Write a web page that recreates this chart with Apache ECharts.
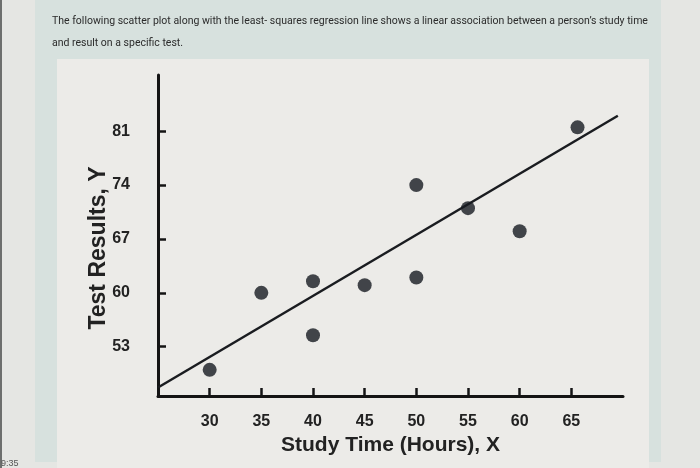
<!DOCTYPE html>
<html>
<head>
    <meta charset="UTF-8"/>
    <script src="https://cdn.jsdelivr.net/npm/echarts@6/dist/echarts.min.js"></script>
    <title>Study time vs test result</title>
    <style>
        html, body { margin: 0; padding: 0; background: #e5e6e3; }
        #main { width: 700px; height: 468px; }
    </style>
</head>
<body>
<div id="main"></div>
<script type="text/javascript">
    // scatter points
    var studyHours = [30, 35, 40, 40, 45, 50, 50, 55, 60, 65.6];
    var testResults = [50, 60, 61.5, 54.5, 61, 74, 62, 71, 68, 81.5];
    // least-squares line, two end points
    var fitHours = [25, 69.5];
    var fitResults = [47.7, 83];
    // tick labels
    var xTicks = [30, 35, 40, 45, 50, 55, 60, 65];
    var yTicks = [53, 60, 67, 74, 81];

    var headText = 'The following scatter plot along with the least- squares regression line shows a linear association between a person\u2019s study time\nand result on a specific test.';

    var points = [];
    for (var i = 0; i < studyHours.length; i++) {
        points.push([studyHours[i], testResults[i]]);
    }
    var fitLine = [];
    for (var j = 0; j < fitHours.length; j++) {
        fitLine.push([fitHours[j], fitResults[j]]);
    }

    var myChart = echarts.init(document.getElementById('main'));
    var option = {
        backgroundColor: '#e5e6e3',
        animation: false,
        graphic: [
            {type: 'rect', shape: {x: 35, y: 0, width: 626, height: 462}, style: {fill: '#d7e1de'}, z: -10},
            {type: 'rect', shape: {x: 57, y: 59, width: 592, height: 409}, style: {fill: '#ecebe8'}, z: -9},
            {type: 'rect', shape: {x: 0, y: 0, width: 2, height: 468}, style: {fill: '#6d6f6e'}, z: -8},
            {
                type: 'text', left: 1, top: 459, z: 5,
                style: {text: '9:35', fill: '#555', fontSize: 9, fontFamily: 'Liberation Sans'}
            }
        ],
        title: {
            text: headText,
            left: 47,
            top: 5,
            textStyle: {
                color: '#2b2b2b',
                fontSize: 10.5,
                fontWeight: 'normal',
                lineHeight: 22,
                fontFamily: 'Roboto'
            }
        },
        grid: {left: 158, right: 77, top: 75, bottom: 72},
        xAxis: {
            type: 'value',
            min: 25,
            max: 70,
            name: 'Study Time (Hours), X',
            nameLocation: 'middle',
            nameGap: 38,
            nameTextStyle: {color: '#222', fontSize: 21, fontWeight: 'bold', fontFamily: 'Liberation Sans'},
            axisLine: {lineStyle: {color: '#141414', width: 3}},
            axisTick: {show: true, inside: true, length: 8, lineStyle: {color: '#141414', width: 2.5}, customValues: xTicks},
            axisLabel: {color: '#222', fontSize: 16, fontWeight: 'bold', margin: 18, fontFamily: 'Liberation Sans', customValues: xTicks},
            splitLine: {show: false}
        },
        yAxis: {
            type: 'value',
            min: 46.6,
            max: 88.3,
            name: 'Test Results, Y',
            nameLocation: 'middle',
            nameGap: 48,
            nameRotate: 90,
            nameMoveOverlap: false,
            nameTextStyle: {
                color: '#222', fontSize: 23, fontWeight: 'bold', fontFamily: 'Liberation Sans',
                padding: [0, 25, 0, 0]
            },
            axisLine: {show: true, lineStyle: {color: '#141414', width: 3}},
            axisTick: {show: true, inside: true, length: 8, lineStyle: {color: '#141414', width: 2.5}, customValues: yTicks},
            axisLabel: {color: '#222', fontSize: 16, fontWeight: 'bold', margin: 28, fontFamily: 'Liberation Sans', customValues: yTicks},
            splitLine: {show: false}
        },
        series: [
            {
                name: 'fit',
                type: 'line',
                data: fitLine,
                symbol: 'none',
                lineStyle: {color: '#1a1c20', width: 2.5},
                z: 2
            },
            {
                name: 'points',
                type: 'scatter',
                data: points,
                symbolSize: 14,
                itemStyle: {color: '#171a21'},
                z: 3
            }
        ]
    };
    myChart.setOption(option);
</script>
</body>
</html>
